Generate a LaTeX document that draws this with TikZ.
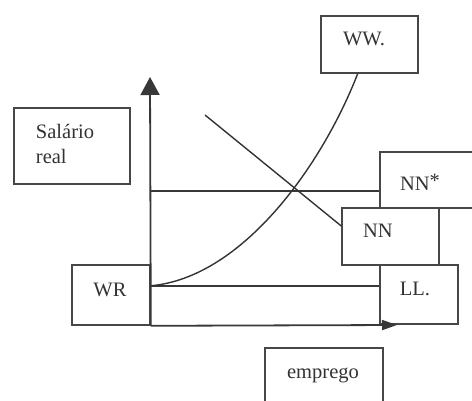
\documentclass[tikz,border=0pt]{standalone}
\usepackage{fontspec}
\setmainfont{Liberation Serif}
\usetikzlibrary{arrows.meta,calc}
\begin{document}
\begin{tikzpicture}[x=1pt,y=-1pt,
  box/.style={draw=black!72,line width=1.6pt,fill=white,rectangle,inner sep=0pt},
  lbl/.style={font=\fontsize{20.5}{25}\selectfont,text=black!80,inner sep=0pt},
  ln/.style={draw=black!78,line width=1.8pt},
  curveln/.style={draw=black!80,line width=1.4pt}]
\useasboundingbox (0,0) rectangle (472,401);
% boxes
\node[box,minimum width=97pt,minimum height=57pt] (ww) at (369.5,44.5) {};
\node[lbl] (wwt) at (364,39) {WW.};
\node[box,minimum width=116pt,minimum height=76pt] (sal) at (72,146) {};
\node[lbl,align=left] (salt) at (65,144) {Salário\\real};
\node[box,minimum width=110pt,minimum height=56pt] (nns) at (435,180) {};
\node[lbl] (nnst) at (420,182) {NN\raisebox{3pt}{*}};
\node[box,minimum width=78pt,minimum height=59pt] (ll) at (419,294.5) {};
\node[lbl] (llt) at (415,289) {LL.};
\node[box,minimum width=97pt,minimum height=57pt] (nn) at (390.5,236.5) {};
\node[lbl] (nnt) at (378,231) {NN};
\node[box,minimum width=78pt,minimum height=60pt] (wr) at (111,295) {};
\node[lbl] (wrt) at (110,290) {WR};
\node[box,minimum width=118pt,minimum height=70pt] (emp) at (324,383) {};
\node[lbl] (empt) at (323,375) {emprego};
% axes
\coordinate (O) at (wr.south east);
\coordinate (ytop) at (150,77);
\coordinate (xend) at (397,325);
\draw[ln,-{Triangle[width=19pt,length=18pt]}] (O) -- (ytop);
\draw[ln,-{Triangle[width=10pt,length=15pt]}] (O) -- (xend);
% horizontal levels
\coordinate (wrp) at ($(wr.north east)!0.35!(wr.south east)$);
\coordinate (nnsp) at ($(nns.north west)!0.69!(nns.south west)$);
\coordinate (axp) at (O |- nnsp);
\draw[ln] (axp) -- (nnsp);
\draw[ln] (wrp) -- (wrp -| ll.west);
% WW curve
\coordinate (wwb) at ($(ww.south west)!0.38!(ww.south east)$);
\draw[curveln] (wrp) .. controls (240,278) and (320,170) .. (wwb);
% NN line
\coordinate (nnstart) at (205,115);
\coordinate (nnw) at ($(nn.north west)!0.32!(nn.south west)$);
\draw[curveln] (nnstart) -- (nnw);
\end{tikzpicture}
\end{document}
